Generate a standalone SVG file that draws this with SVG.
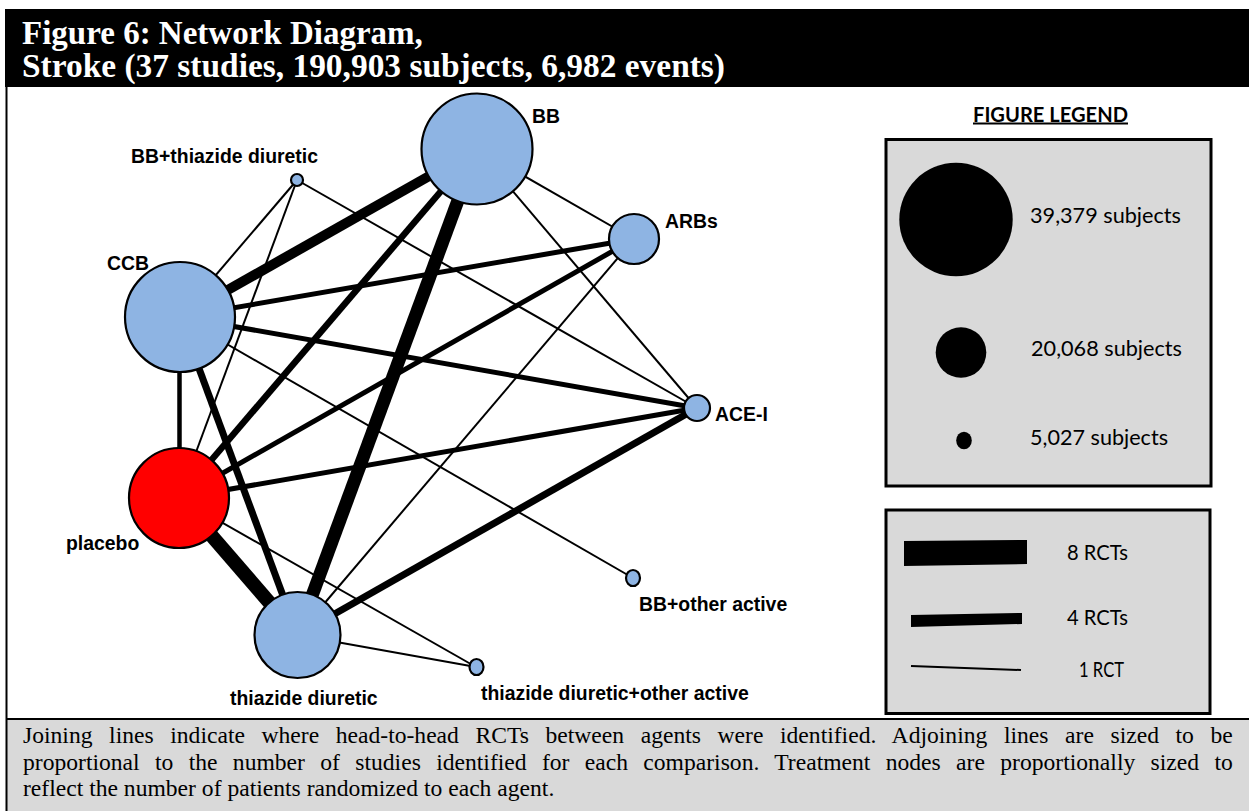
<svg xmlns="http://www.w3.org/2000/svg" width="1249" height="811" viewBox="0 0 1249 811">
  <style>
    .title { font-family: "Liberation Serif", "Times New Roman", serif; font-weight: bold; font-size: 33px; fill: #ffffff; }
    .caption { font-family: "Liberation Serif", "Times New Roman", serif; font-size: 23.6px; fill: #000000; }
    .lbl { font-family: "Liberation Sans", Arial, sans-serif; font-weight: bold; font-size: 19.4px; fill: #000000; }
    .leg { font-family: Lato, "Open Sans", sans-serif; font-size: 21px; fill: #000000; }
    .legh { font-family: Lato, "Open Sans", sans-serif; font-weight: bold; font-size: 20px; fill: #000000; text-decoration: underline; }
    .node { fill: #8eb4e3; stroke: #000000; stroke-width: 2.2; }
    .ref { fill: #ff0000; stroke: #000000; stroke-width: 2.2; }
    .e { stroke: #000000; stroke-linecap: butt; fill: none; }
    .w1 { stroke-width: 2; }
    .w4 { stroke-width: 4.5; }
    .w5 { stroke-width: 5; }
    .w6 { stroke-width: 6.5; }
    .w7 { stroke-width: 7; }
    .w10 { stroke-width: 10; }
    .w13 { stroke-width: 13; }
    .w14 { stroke-width: 14; }
    .box { fill: #d9d9d9; stroke: #000000; stroke-width: 3; }
  </style>

  <!-- page background -->
  <rect x="0" y="0" width="1249" height="811" fill="#ffffff"/>

  <!-- title band -->
  <g id="title">
    <rect x="5" y="9" width="1244" height="78" fill="#000000"/>
    <text class="title" x="22" y="43.5">Figure 6: Network Diagram,</text>
    <text class="title" x="22" y="77" textLength="703" lengthAdjust="spacingAndGlyphs">Stroke (37 studies, 190,903 subjects, 6,982 events)</text>
  </g>

  <!-- frame edges and caption panel -->
  <rect x="6" y="719" width="1243" height="92" fill="#d9d9d9"/>
  <line x1="6" y1="719" x2="1249" y2="719" stroke="#000000" stroke-width="2"/>
  <line x1="6.5" y1="87" x2="6.5" y2="811" stroke="#000000" stroke-width="2"/>

  <!-- connectors: comparisons between treatments -->
  <g id="connectors">
    <!-- BB+thiazide diuretic -->
    <line class="e w1" x1="297" y1="180" x2="180" y2="317"/>
    <line class="e w1" x1="297" y1="180" x2="179" y2="498"/>
    <line class="e w1" x1="297" y1="180" x2="697" y2="408"/>
    <!-- BB -->
    <line class="e w10" x1="477" y1="149" x2="180" y2="317"/>
    <line class="e w13" x1="477" y1="149" x2="297.5" y2="635"/>
    <line class="e w6" x1="477" y1="149" x2="179" y2="498"/>
    <line class="e w1" x1="477" y1="149" x2="634" y2="239"/>
    <line class="e w1" x1="477" y1="149" x2="697" y2="408"/>
    <!-- CCB -->
    <line class="e w5" x1="180" y1="317" x2="634" y2="239"/>
    <line class="e w5" x1="180" y1="317" x2="697" y2="408"/>
    <line class="e w4" x1="179.5" y1="317" x2="179.5" y2="498"/>
    <line class="e w7" x1="180" y1="317" x2="297.5" y2="635"/>
    <line class="e w1" x1="180" y1="317" x2="633" y2="578"/>
    <!-- placebo -->
    <line class="e w5" x1="179" y1="498" x2="634" y2="239"/>
    <line class="e w5" x1="179" y1="498" x2="697" y2="408"/>
    <line class="e w14" x1="179" y1="498" x2="297.5" y2="635"/>
    <line class="e w1" x1="179" y1="498" x2="476" y2="667"/>
    <!-- thiazide diuretic -->
    <line class="e w7" x1="297.5" y1="635" x2="697" y2="408"/>
    <line class="e w1" x1="297.5" y1="635" x2="634" y2="239"/>
    <line class="e w1" x1="297.5" y1="635" x2="476" y2="667"/>
  </g>

  <!-- treatment nodes -->
  <g id="node-bb">
    <circle class="node" cx="477" cy="149" r="55.5"/>
    <text class="lbl" x="532" y="123">BB</text>
  </g>
  <g id="node-bb-thiazide">
    <circle class="node" cx="297" cy="180" r="6"/>
    <text class="lbl" x="131" y="163">BB+thiazide diuretic</text>
  </g>
  <g id="node-arbs">
    <circle class="node" cx="634" cy="239" r="25"/>
    <text class="lbl" x="665" y="228">ARBs</text>
  </g>
  <g id="node-ccb">
    <circle class="node" cx="180" cy="317" r="55"/>
    <text class="lbl" x="107" y="270">CCB</text>
  </g>
  <g id="node-ace">
    <circle class="node" cx="697" cy="408" r="13"/>
    <text class="lbl" x="715" y="421">ACE-I</text>
  </g>
  <g id="node-placebo">
    <circle class="ref" cx="179" cy="498" r="50"/>
    <text class="lbl" x="66" y="550">placebo</text>
  </g>
  <g id="node-bb-other">
    <ellipse class="node" cx="633" cy="578" rx="7" ry="8"/>
    <text class="lbl" x="639" y="611">BB+other active</text>
  </g>
  <g id="node-thiazide">
    <circle class="node" cx="297.5" cy="635" r="43"/>
    <text class="lbl" x="230" y="705">thiazide diuretic</text>
  </g>
  <g id="node-thiazide-other">
    <ellipse class="node" cx="476.5" cy="667" rx="7" ry="8"/>
    <text class="lbl" x="481" y="700">thiazide diuretic+other active</text>
  </g>

  <!-- legend: node sizes -->
  <g id="legend-nodes">
    <text class="legh" x="973" y="121.5" textLength="155" lengthAdjust="spacingAndGlyphs">FIGURE LEGEND</text>
    <rect class="box" x="886" y="139.5" width="325" height="346.5"/>
    <circle cx="956" cy="219.5" r="56.7" fill="#000000"/>
    <circle cx="961" cy="352.5" r="25.3" fill="#000000"/>
    <ellipse cx="964" cy="440.5" rx="7.8" ry="8.8" fill="#000000"/>
    <text class="leg" x="1030" y="223" textLength="151" lengthAdjust="spacingAndGlyphs">39,379 subjects</text>
    <text class="leg" x="1031" y="356" textLength="151" lengthAdjust="spacingAndGlyphs">20,068 subjects</text>
    <text class="leg" x="1030" y="445" textLength="138" lengthAdjust="spacingAndGlyphs">5,027 subjects</text>
  </g>

  <!-- legend: line widths -->
  <g id="legend-lines">
    <rect class="box" x="886" y="510" width="324" height="203.5"/>
    <polygon points="904,541 1027,540 1027,564 904,566" fill="#000000"/>
    <polygon points="911,615 1022,613 1022,624 911,627" fill="#000000"/>
    <line x1="911" y1="666" x2="1021" y2="670" stroke="#000000" stroke-width="2"/>
    <text class="leg" x="1067" y="560" textLength="61" lengthAdjust="spacingAndGlyphs">8 RCTs</text>
    <text class="leg" x="1067" y="625" textLength="61" lengthAdjust="spacingAndGlyphs">4 RCTs</text>
    <text class="leg" x="1079" y="676.5" textLength="45" lengthAdjust="spacingAndGlyphs">1 RCT</text>
  </g>

  <!-- caption: first two lines justified by widening the word gaps -->
  <g id="caption">
    <text class="caption" x="23" y="743" word-spacing="10.7">Joining lines indicate where head-to-head RCTs between agents were identified. Adjoining lines are sized to be</text>
    <text class="caption" x="23" y="769.5" word-spacing="9.45">proportional to the number of studies identified for each comparison. Treatment nodes are proportionally sized to</text>
    <text class="caption" x="23" y="796">reflect the number of patients randomized to each agent.</text>
  </g>
</svg>
